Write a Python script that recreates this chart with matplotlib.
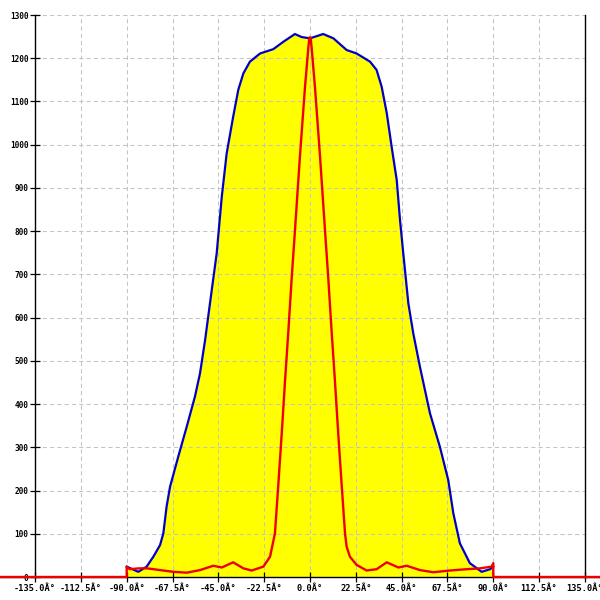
import matplotlib
matplotlib.use("Agg")
import matplotlib.pyplot as plt

# ---- data ----
blue_x = [-90, -84.3, -80.2, -76.9, -73.6, -72.0, -70.4, -68.7, -64.7, -60.5, -56.5, -54, -51.5,
          -49.1, -45.8, -43.3, -40.9, -37.7, -35.2, -32.7, -29.5, -24.5, -18.0, -13.1, -7.4, -4.1,
          0, 6.5, 11.5, 18.0, 22.9, 29.5, 32.7, 35.2, 37.7, 40.1, 42.6, 44.2, 45.8, 48.3, 50.7,
          54, 58.9, 63.8, 67.9, 70.4, 73.6, 78.5, 84.3, 88.4, 90]
blue_y = [24, 12, 24, 47, 74, 101, 163, 209, 278, 348, 417, 471, 548,
          633, 749, 880, 980, 1065, 1127, 1165, 1192, 1211, 1221, 1238, 1256, 1249,
          1246, 1256, 1246, 1219, 1211, 1192, 1173, 1134, 1073, 995, 918, 826, 749, 633, 564,
          486, 379, 301, 224, 147, 78, 32, 12, 18, 24]

red_x = [-160, -90, -90, -88.5, -84, -80, -73.6, -67.1, -60.5, -54, -47.5, -43.3, -37.7, -32.7,
         -28.6, -22.9, -19.6, -17.2, -15.6, -13.9, -12.3, -10.6, -9.0, -7.4, -4.9, -2.5, -0.8,
         -0.3, 0.3, 0.8, 2.5, 4.9, 7.4, 9.0, 10.6, 12.3, 13.9, 15.6, 17.2, 18.0, 19.6, 22.9,
         27.8, 32.7, 37.7, 43.4, 47.5, 54, 60.5, 68.7, 76.9, 83.5, 89.2, 90, 90, 160]
red_y = [0, 0, 24, 18, 20, 20, 16, 12, 10, 16, 26, 22, 34, 20,
         15, 24, 47, 101, 210, 330, 450, 570, 690, 800, 975, 1130, 1225,
         1248, 1248, 1225, 1130, 975, 800, 690, 570, 450, 330, 210, 101, 70, 47, 28,
         15, 18, 34, 22, 26, 16, 11, 15, 18, 20, 24, 32, 0, 0]

x_ticks = [-135, -112.5, -90, -67.5, -45, -22.5, 0, 22.5, 45, 67.5, 90, 112.5, 135]
x_tick_labels = ["-135.0Â°", "-112.5Â°", "-90.0Â°", "-67.5Â°", "-45.0Â°", "-22.5Â°", "0.0Â°",
                 "22.5Â°", "45.0Â°", "67.5Â°", "90.0Â°", "112.5Â°", "135.0Â°"]
y_ticks = [0, 100, 200, 300, 400, 500, 600, 700, 800, 900, 1000, 1100, 1200, 1300]
y_tick_labels = [str(v) for v in y_ticks]

# ---- figure ----
fig = plt.figure(figsize=(6, 6), dpi=100)
ax = fig.add_axes([0, 0, 1, 1])
ax.set_xlim(-152.2, 142.4)
ax.set_ylim(-53.2, 1334.7)

# grid (drawn above the fill)
ax.hlines(y_ticks[1:], x_ticks[0], x_ticks[-1], colors="#c4c4c4", linestyles=(0, (4, 3)),
          linewidth=0.75, zorder=1.5)
ax.vlines(x_ticks[1:-1], 0, y_ticks[-1], colors="#c4c4c4", linestyles=(0, (4, 3)),
          linewidth=0.75, zorder=1.5)

ax.fill_between([blue_x[0]] + blue_x + [blue_x[-1]], 0, [0] + blue_y + [0],
                color="#ffff00", linewidth=0, zorder=1)
ax.plot(blue_x, blue_y, color="#0000c8", linewidth=1.6, zorder=3)
ax.plot(red_x, red_y, color="#ee0000", linewidth=1.7, zorder=4)

ax.spines["top"].set_visible(False)
ax.spines["left"].set_position(("data", -135))
ax.spines["right"].set_position(("data", 135))
ax.spines["bottom"].set_position(("data", 0))
ax.spines["left"].set_bounds(0, 1300)
ax.spines["right"].set_bounds(0, 1300)
for s in ["left", "right", "bottom"]:
    ax.spines[s].set_linewidth(1.0)
    ax.spines[s].set_color("black")
    ax.spines[s].set_zorder(2.5)

ax.set_xticks(x_ticks)
ax.set_xticklabels(x_tick_labels, family="DejaVu Sans Mono", fontsize=6.2, fontweight="bold")
ax.set_yticks(y_ticks)
ax.set_yticklabels(y_tick_labels, family="DejaVu Sans Mono", fontsize=5.6, fontweight="bold")
ax.tick_params(axis="both", direction="inout", length=6.5, width=0.9, color="black",
               labelcolor="black")
ax.tick_params(axis="x", pad=2.0)
ax.tick_params(axis="y", pad=1.5)
ax.yaxis.set_ticks_position("left")
ax.xaxis.set_ticks_position("bottom")
ax.set_facecolor("white")
fig.patch.set_facecolor("white")

fig.savefig("out.png", dpi=100, facecolor="white")
